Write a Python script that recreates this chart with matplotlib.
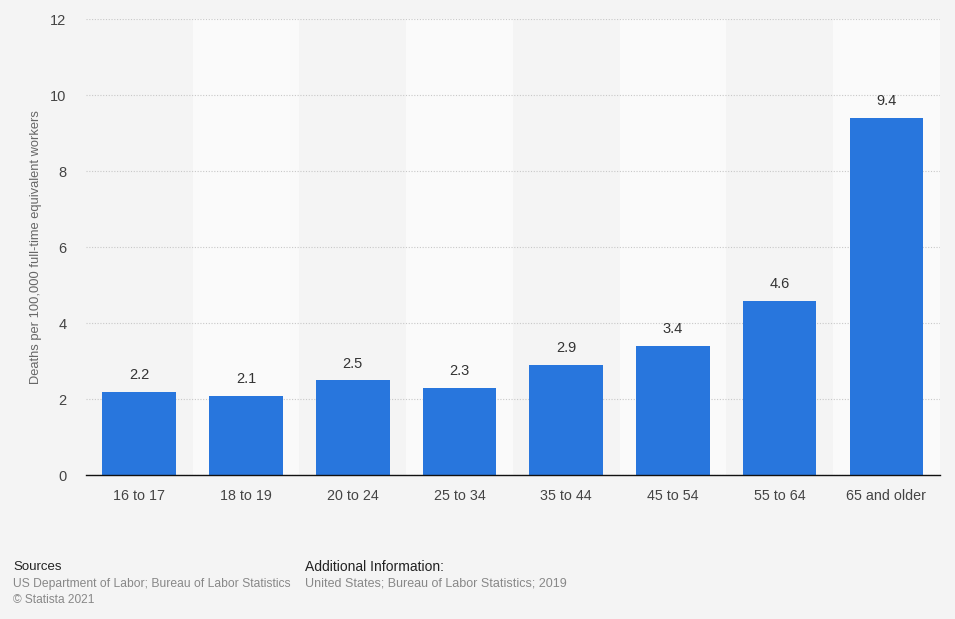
import matplotlib.pyplot as plt

categories = ["16 to 17", "18 to 19", "20 to 24", "25 to 34", "35 to 44", "45 to 54", "55 to 64", "65 and older"]
deaths = [2.2, 2.1, 2.5, 2.3, 2.9, 3.4, 4.6, 9.4]
yticks = [0, 2, 4, 6, 8, 10, 12]

bg = "#f4f4f4"
band = "#fafafa"
bar_color = "#2876dd"

plt.rcParams['font.family'] = ['Liberation Sans', 'DejaVu Sans']

fig = plt.figure(figsize=(9.55, 6.19), dpi=100, facecolor=bg)
ax = fig.add_axes([0.090, 0.232, 0.894, 0.737])
ax.set_facecolor(bg)

x = list(range(len(categories)))
for i in x:
    if i % 2 == 1:
        ax.axvspan(i - 0.5, i + 0.5, color=band, zorder=0, lw=0)

ax.set_xlim(-0.5, len(categories) - 0.5)
ax.set_ylim(0, 12)
ax.set_yticks(yticks)
ax.yaxis.grid(True, linestyle=(0, (1, 1.5)), color="#c8c8c8", linewidth=0.8, zorder=1)
ax.set_axisbelow(True)

bars = ax.bar(x, deaths, width=0.69, color=bar_color, zorder=3)
for b, v in zip(bars, deaths):
    ax.annotate(f"{v}", xy=(b.get_x() + b.get_width() / 2, v), xytext=(0, 7),
                textcoords="offset points", ha="center", va="bottom",
                fontsize=10.5, color="#333333", zorder=4)

ax.set_xticks(x)
ax.set_xticklabels(categories, fontsize=10.3, color="#444444")
ax.tick_params(axis="x", length=0, pad=10)
ax.tick_params(axis="y", length=0, pad=14, labelsize=10.5, labelcolor="#444444")

for s in ["top", "right", "left"]:
    ax.spines[s].set_visible(False)
ax.spines["bottom"].set_color("#111111")
ax.spines["bottom"].set_linewidth(1.0)
ax.spines["bottom"].set_zorder(5)

ax.set_ylabel("Deaths per 100,000 full-time equivalent workers", fontsize=9.3, color="#666666", labelpad=6)

fig.text(13 / 955, 1 - 567 / 619, "Sources", fontsize=9.5, color="#222222", va="center")
fig.text(13 / 955, 1 - 584 / 619, "US Department of Labor; Bureau of Labor Statistics", fontsize=8.7, color="#888888", va="center")
fig.text(13 / 955, 1 - 600 / 619, "\u00a9 Statista 2021", fontsize=8.6, color="#888888", va="center")
fig.text(305 / 955, 1 - 567 / 619, "Additional Information:", fontsize=10, color="#222222", va="center")
fig.text(305 / 955, 1 - 584 / 619, "United States; Bureau of Labor Statistics; 2019", fontsize=9, color="#888888", va="center")

fig.savefig("out.png", dpi=100, facecolor=bg)
